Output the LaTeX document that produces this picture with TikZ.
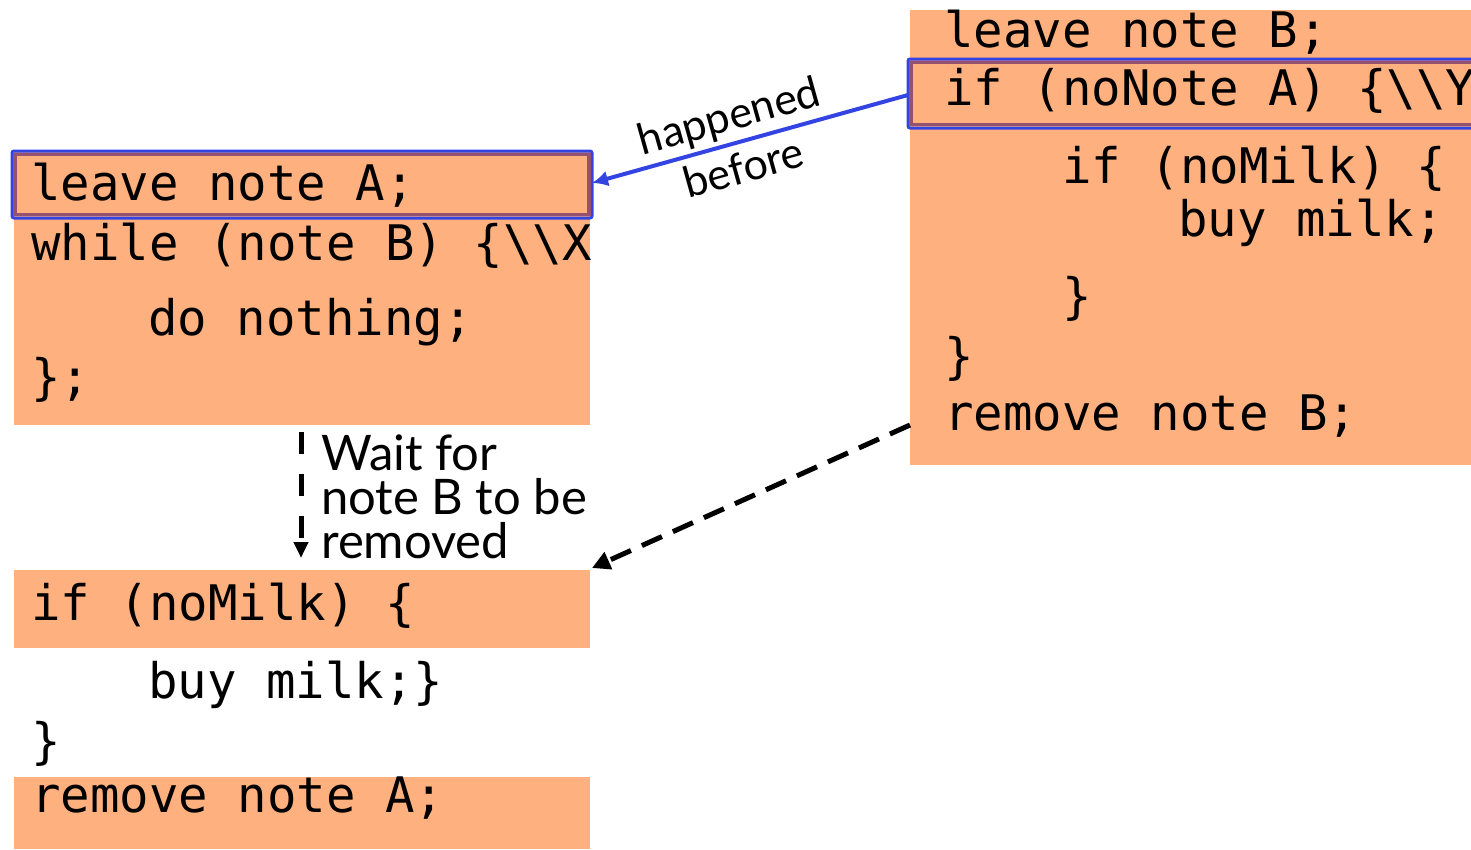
\documentclass[tikz,border=0pt]{standalone}
\usepackage{fontspec}
\setmonofont{DejaVu Sans Mono}
\newfontfamily\labelfont{Lato}
\usetikzlibrary{arrows.meta}
\definecolor{codefill}{RGB}{255,176,127}
\definecolor{hlpurple}{RGB}{148,82,112}
\definecolor{hlblue}{RGB}{52,68,226}
\tikzset{
  codeline/.style={anchor=base west, inner sep=0pt, font=\fontsize{49}{49}\selectfont\ttfamily},
  codebox/.style={fill=codefill, draw=none},
  note/.style={inner sep=0pt, font=\fontsize{49}{44}\selectfont\labelfont, align=left},
  hbnote/.style={inner sep=0pt, font=\fontsize{43}{54}\selectfont\labelfont, align=center},
  hbblue/.style={draw=hlblue, line width=3pt, rounded corners=2pt},
  hbpurple/.style={draw=hlpurple, line width=3.5pt},
}
\begin{document}
\begin{tikzpicture}[x=1pt,y=-1pt]
\useasboundingbox (0,0) rectangle (1471,849);

% orange code blocks
\fill[codebox] (14,152) rectangle (590,425);
\fill[codebox] (910,10) rectangle (1471,465);
\fill[codebox] (14,570) rectangle (590,648);
\fill[codebox] (14,777) rectangle (590,849);

% highlighted statements
\draw[hbblue] (12,151) rectangle (592,218);
\draw[hbpurple] (15,154.5) rectangle (589,214.5);
\draw[hbblue] (908,59) rectangle (1480,128);
\draw[hbpurple] (911,62.5) rectangle (1480,124.5);

% thread A
\node[codeline] (a1) at (31,200) {leave note A;};
\node[codeline] (a2) at (31,260) {while (note B) \{\textbackslash\textbackslash X};
\node[codeline] (a3) at (148,335) {do nothing;};
\node[codeline] (a4) at (31,394) {\};};
\node[codeline] (a5) at (31,620) {if (noMilk) \{};
\node[codeline] (a6) at (148,698) {buy milk;\}};
\node[codeline] (a7) at (31,758) {\}};
\node[codeline] (a8) at (31,812) {remove note A;};

% thread B
\node[codeline] (b1) at (944,47) {leave note B;};
\node[codeline] (b2) at (944,105) {if (noNote A) \{\textbackslash\textbackslash Y};
\node[codeline] (b3) at (1062,183) {if (noMilk) \{};
\node[codeline] (b4) at (1178,236) {buy milk;};
\node[codeline] (b5) at (1062,313) {\}};
\node[codeline] (b6) at (944,373) {\}};
\node[codeline] (b7) at (944,430) {remove note B;};

% anchors for the connectors
\coordinate (hbR) at (908,95);
\coordinate (hbL) at (592,183);
\coordinate (rmB) at (910,425);
\coordinate (ifA) at (592,568);
\coordinate (wTop) at (301,432);
\coordinate (wBot) at (301,558);

% happened-before relation
\draw[hlblue, line width=4pt, -{Latex[length=16pt,width=16pt]}] (hbR) -- (hbL);
\node[hbnote, rotate=15.6] (hb) at (736,141) {happened\\before};

% waiting for note B
\draw[line width=5pt, dash pattern=on 22pt off 12pt, -{Triangle[length=18pt,width=18pt]}] (rmB) -- (ifA);
\draw[line width=5pt, dash pattern=on 22pt off 20pt, -{Triangle[length=16pt,width=14pt]}] (wTop) -- (wBot);
\node[note, anchor=north west] (wait) at (321,435) {Wait for\\note B to be\\removed};
\end{tikzpicture}
\end{document}
